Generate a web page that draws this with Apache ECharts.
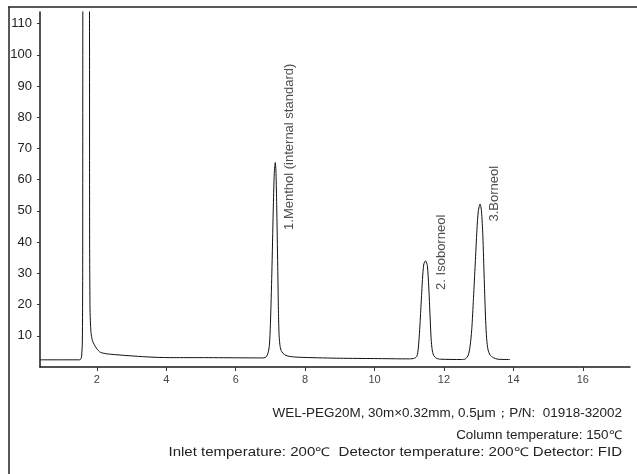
<!DOCTYPE html>
<html>
<head>
<meta charset="utf-8">
<script src="https://cdn.jsdelivr.net/npm/echarts@6/dist/echarts.min.js"></script>
<style>
  html, body { margin: 0; padding: 0; background: #fff; }
  #chart { width: 637px; height: 474px; }
</style>
</head>
<body>
<div id="chart"></div>
<script>
// Retention time (min) and detector response of the GC trace
const retentionTime = [
  0.36, 1.50, 1.54, 1.56, 1.58, 1.59, 1.60, 1.78, 1.79, 1.80, 1.81, 1.83, 1.87, 1.92, 2.00, 2.10,
  2.30, 2.70, 3.20, 3.70, 4.20, 5.00, 6.00, 6.80, 6.88, 6.93, 6.97, 7.00, 7.04, 7.08, 7.11,
  7.14, 7.16, 7.18, 7.21, 7.23, 7.25, 7.28, 7.32, 7.40, 7.50, 7.70, 8.00, 9.00, 10.00, 11.00,
  11.15, 11.22, 11.26, 11.30, 11.34, 11.38, 11.42, 11.47, 11.52, 11.56, 11.60, 11.63, 11.66, 11.70, 11.78,
  11.90, 12.50, 12.62, 12.70, 12.75, 12.80, 12.85, 12.90, 12.95, 12.99, 13.04, 13.08, 13.12, 13.16, 13.20,
  13.23, 13.27, 13.33, 13.42, 13.55, 13.90
];
const response = [
  2.3, 2.3, 2.6, 3.5, 8, 30, 140, 140, 40, 20, 15, 11, 8.5, 7.2, 5.8, 4.7,
  4.2, 3.8, 3.4, 3.1, 3.0, 3.0, 2.95, 2.9, 3.3, 4.5, 7, 14, 30, 50, 62,
  65.5, 62, 52, 32, 18, 10, 6.5, 5, 4, 3.5, 3.2, 3.05, 2.8, 2.7, 2.6,
  2.8, 3.5, 6, 12, 20, 28, 33, 34, 32.5, 26, 16, 9, 5.5, 3.8, 2.8,
  2.5, 2.4, 2.6, 3.8, 6.5, 12, 22, 33, 44, 50, 52.2, 50, 42, 28, 15,
  9, 5.5, 3.8, 3.0, 2.5, 2.4
];

// Peak identification labels and where their text starts
const peakNames = ['1.Menthol (internal standard)', '2. Isoborneol', '3.Borneol'];
const peakLabelTime = [7.56, 11.93, 13.44];
const peakLabelLevel = [43.9, 24.7, 46.6];

// Axis ticks
const xTicks = [2, 4, 6, 8, 10, 12, 14, 16];
const yTicks = [10, 20, 30, 40, 50, 60, 70, 80, 90, 100, 110];

// Method conditions printed under the chart
const conditions = [
  'WEL-PEG20M, 30m×0.32mm, 0.5μm；P/N:  01918-32002',
  'Column temperature: 150℃',
  'Inlet temperature: 200℃  Detector temperature: 200℃ Detector: FID'
];

const FONT = '"Liberation Sans", Arial, Helvetica, sans-serif';
const chart = echarts.init(document.getElementById('chart'), null, { renderer: 'canvas' });

const trace = retentionTime.map((t, i) => [t, response[i]]);
const labelPoints = peakNames.map((name, i) => ({ value: [peakLabelTime[i], peakLabelLevel[i]], name }));

// Footer rows: baseline y and horizontal stretch of each row
const footerRows = [
  { y: 414, sx: 1.12 },
  { y: 436, sx: 1.12 },
  { y: 453, sx: 1.25 }
];

chart.setOption({
  animation: false,
  backgroundColor: '#ffffff',
  grid: { left: 40, right: 7, top: 12, bottom: 107, containLabel: false },
  xAxis: {
    type: 'value',
    min: 0.36,
    max: 17.36,
    splitLine: { show: false },
    axisLine: { show: true, onZero: false, lineStyle: { color: '#1a1a1a', width: 1.5 } },
    axisTick: { show: true, length: 4, customValues: xTicks, lineStyle: { color: '#333', width: 1 } },
    axisLabel: { customValues: xTicks, margin: 7, fontSize: 11, color: '#444', fontFamily: FONT }
  },
  yAxis: {
    type: 'value',
    min: 0,
    max: 113.7,
    splitLine: { show: false },
    axisLine: { show: true, onZero: false, lineStyle: { color: '#1a1a1a', width: 1.5 } },
    axisTick: { show: true, length: 3, customValues: yTicks, lineStyle: { color: '#333', width: 1 } },
    axisLabel: { customValues: yTicks, margin: 8, fontSize: 13, color: '#222', fontFamily: FONT }
  },
  series: [
    {
      type: 'line',
      data: trace,
      showSymbol: false,
      smooth: 0.25,
      clip: true,
      lineStyle: { color: '#111', width: 1 }
    },
    {
      type: 'scatter',
      data: labelPoints,
      symbolSize: 0,
      silent: true,
      label: {
        show: true,
        formatter: '{b}',
        position: 'inside',
        rotate: 90,
        align: 'left',
        verticalAlign: 'middle',
        fontSize: 13,
        color: '#222',
        fontFamily: FONT
      }
    }
  ],
  graphic: [
    { type: 'line', shape: { x1: 8, y1: 7, x2: 637, y2: 7 }, style: { stroke: '#222', lineWidth: 1.5 } },
    { type: 'line', shape: { x1: 9, y1: 7, x2: 9, y2: 474 }, style: { stroke: '#222', lineWidth: 1.5 } },
    ...conditions.map((txt, i) => ({
      type: 'text',
      x: 622,
      y: footerRows[i].y,
      scaleX: footerRows[i].sx,
      style: { text: txt, align: 'right', verticalAlign: 'middle', fontSize: 12, fill: '#222', fontFamily: FONT }
    }))
  ]
});
</script>
</body>
</html>
